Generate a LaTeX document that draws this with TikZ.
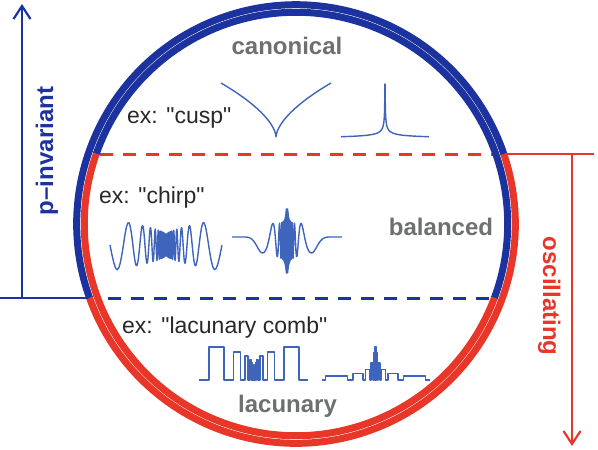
\documentclass[tikz,border=0pt]{standalone}
\usepackage{fontspec}
\setmainfont{Liberation Sans}[Ligatures=TeXOff]
\usetikzlibrary{arrows.meta}
\definecolor{cblue}{RGB}{28,50,158}
\definecolor{cred}{RGB}{232,55,40}
\definecolor{wblue}{RGB}{62,100,188}
\definecolor{lgray}{RGB}{108,112,110}
\definecolor{tgray}{RGB}{40,40,40}
\begin{document}
\begin{tikzpicture}[x=1pt,y=-1pt,
  ring/.style={line width=7pt},
  axis/.style={line width=2.2pt},
  dashline/.style={line width=3pt, dash pattern=on 13pt off 10pt},
  wave/.style={wblue, line width=1.4pt, line join=round},
  lab/.style={lgray, font=\fontsize{24}{28}\selectfont\bfseries, inner sep=0pt, anchor=base},
  extext/.style={tgray, font=\fontsize{23}{27}\selectfont, inner sep=0pt, anchor=base west},
  vlab/.style={font=\fontsize{24}{28}\selectfont\bfseries, inner sep=0pt, anchor=base},
  tipstyle/.style={-{Straight Barb[length=13pt,width=17pt,line width=2.2pt]}},
  declare function={
    bE(\d)=min(32,15*pow(25/\d,0.12)+17*exp(-\d/1.0))*exp(-((max(\d-25,0)/10)^2));
    bY(\d)=237+4*exp(-((\d/20)^2))+bE(\d)*sin(deg(mod(100/\d+3.85,6.283185)));
    cT(\p)=pow(36.8/\p,3.3333);
    cY(\p)=245-(10+16*pow(36.8/\p,2))*sin(deg(mod(\p+4.04,6.283185)));
  }
]
\useasboundingbox (0,0) rectangle (598,450);
\coordinate (C) at (296,224);
\def\Ro{219.3}\def\Ri{211.7}
\pgfmathsetmacro\oTop{asin(-70/\Ro)}
\pgfmathsetmacro\oBot{asin(74/\Ro)}
\pgfmathsetmacro\iTop{asin(-70/\Ri)}
\pgfmathsetmacro\iBot{asin(74/\Ri)}

% horizontal lines and axes
\coordinate (bl0) at (0,298);
\coordinate (blr) at (90,298);
\coordinate (bax) at (22,298);
\coordinate (btip) at (22,4);
\coordinate (bd0) at (108,298);
\coordinate (bd1) at (496,298);
\coordinate (rd0) at (100,154);
\coordinate (rd1) at (497,154);
\coordinate (rl0) at (500,154);
\coordinate (rl1) at (594,154);
\coordinate (rax) at (572,154);
\coordinate (rtip) at (572,446);

\draw[dashline,cred] (rd0) -- (rd1);
\draw[dashline,cblue] (bd0) -- (bd1);
\draw[axis,cblue] (bl0) -- (blr);
\draw[axis,cblue,tipstyle] (bax) -- (btip);
\draw[axis,cred] (rl0) -- (rl1);
\draw[axis,cred,tipstyle] (rax) -- (rtip);

% rings
\draw[ring,cblue] (C) ++(180-\oBot:\Ro) arc[start angle=180-\oBot, end angle=360+\oTop, radius=\Ro];
\draw[ring,cred] (C) ++(360+\oTop:\Ro) arc[start angle=360+\oTop, end angle=540-\oBot, radius=\Ro];
\draw[ring,cblue] (C) ++(180-\iTop:\Ri) arc[start angle=180-\iTop, end angle=360+\iBot, radius=\Ri];
\draw[ring,cred] (C) ++(360+\iBot:\Ri) arc[start angle=360+\iBot, end angle=540-\iTop, radius=\Ri];

% labels
\node[lab] (canon) at (287,54) {canonical};
\node[lab] (bal) at (441,235) {balanced};
\node[lab] (lac) at (287.5,412) {lacunary};
\node[extext] (excusp) at (127,123) {ex: "cusp"};
\node[extext] (exchirp) at (99,203) {ex: "chirp"};
\node[extext] (exlac) at (122,333) {ex: "lacunary comb"};
\node[vlab,cblue,rotate=90] (pinv) at (53,151) {p–invariant};
\node[vlab,cred,rotate=-90] (osc) at (543,296) {oscillating};

% cusp
\draw[wave] plot[domain=1:0.001, samples=60] ({276-55*\x*\x},{137-54*pow(\x,1.2)})
  -- plot[domain=0.001:1, samples=60] ({276+55*\x*\x},{137-54*pow(\x,1.2)});
% spike
\draw[wave] plot[domain=1:0.05, samples=80] ({385-44*\x*\x*\x},{139-min(55,2.3/pow(\x,1.65))})
  -- plot[domain=0.05:1, samples=80] ({385+44*\x*\x*\x},{139-min(55,2.3/pow(\x,1.65))});

% chirp (bowtie)
\draw[wave] plot[domain=36.8:400, samples=900] ({166-56*cT(\x)},{cY(\x)})
  -- plot[domain=400:36.8, samples=900] ({166+56*cT(\x)},{cY(\x)});

% burst
\draw[wave] plot[domain=55:8, samples=100] ({287-\x},{bY(\x)})
  -- plot[domain=12.5:400, samples=800] ({287-100/\x},{bY(100/\x)})
  -- plot[domain=400:12.5, samples=800] ({287+100/\x},{bY(100/\x)})
  -- plot[domain=8:55, samples=100] ({287+\x},{bY(\x)});

% lacunary comb (decreasing)
\draw[wave] (199,380) -- (209,380) -- (209,347) -- (224,347) -- (224,380)
  -- (233.75,380) -- (233.75,351.87) -- (240.5,351.87) -- (240.5,380)
  -- (244.89,380) -- (244.89,356.02) -- (247.93,356.02) -- (247.93,380)
  -- (249.90,380) -- (249.90,359.55) -- (251.27,359.55) -- (251.27,380)
  -- (252.16,380) -- (252.16,362.57) -- (252.77,362.57) -- (252.77,380)
  -- (253.17,380) -- (253.17,365.14) -- (253.45,365.14) -- (253.45,380)
  -- (254.55,380) -- (254.55,365.14) -- (254.83,365.14) -- (254.83,380)
  -- (255.23,380) -- (255.23,362.57) -- (255.84,362.57) -- (255.84,380)
  -- (256.73,380) -- (256.73,359.55) -- (258.10,359.55) -- (258.10,380)
  -- (260.07,380) -- (260.07,356.02) -- (263.11,356.02) -- (263.11,380)
  -- (267.5,380) -- (267.5,351.87) -- (274.25,351.87) -- (274.25,380)
  -- (284,380) -- (284,347) -- (299,347) -- (299,380) -- (308,380);

% lacunary comb (increasing)
\draw[wave] (322,380) -- (325.5,380) -- (325.5,376) -- (347.5,376) -- (347.5,380)
  -- (353,380) -- (353,373.54) -- (362.9,373.54) -- (362.9,380)
  -- (365.375,380) -- (365.375,369.57) -- (369.83,369.57) -- (369.83,380)
  -- (370.94,380) -- (370.94,363.15) -- (372.95,363.15) -- (372.95,380)
  -- (373.45,380) -- (373.45,352.8) -- (374.35,352.8) -- (374.35,380)
  -- (374.58,380) -- (374.58,347) -- (374.98,347) -- (374.98,380)
  -- (375.5,380) -- (375.5,347) -- (375.5,380)
  -- (376.02,380) -- (376.02,347) -- (376.42,347) -- (376.42,380)
  -- (376.65,380) -- (376.65,352.8) -- (377.55,352.8) -- (377.55,380)
  -- (378.05,380) -- (378.05,363.15) -- (380.06,363.15) -- (380.06,380)
  -- (381.17,380) -- (381.17,369.57) -- (385.625,369.57) -- (385.625,380)
  -- (388.1,380) -- (388.1,373.54) -- (398,373.54) -- (398,380)
  -- (403.5,380) -- (403.5,376) -- (425.5,376) -- (425.5,380) -- (430,380);
\end{tikzpicture}
\end{document}
